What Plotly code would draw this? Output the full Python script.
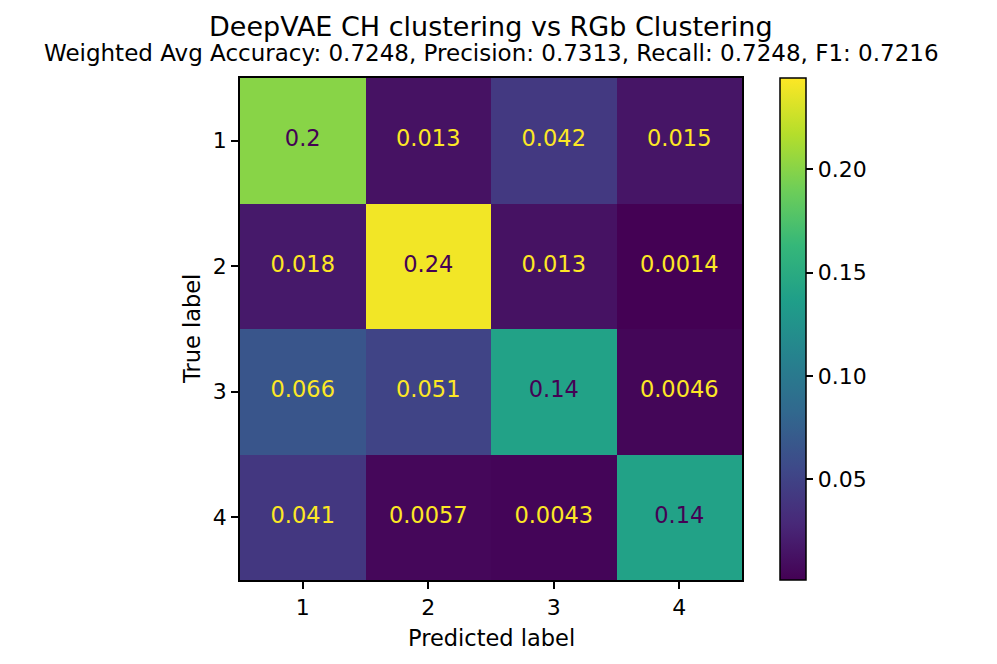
import plotly.graph_objects as go

labels = ["1", "2", "3", "4"]
matrix = [
    [0.2, 0.013, 0.042, 0.015],
    [0.018, 0.24, 0.013, 0.0014],
    [0.066, 0.051, 0.14, 0.0046],
    [0.041, 0.0057, 0.0043, 0.14],
]
cbar_ticks = [0.05, 0.10, 0.15, 0.20]
title = "DeepVAE CH clustering vs RGb Clustering"
subtitle = "Weighted Avg Accuracy: 0.7248, Precision: 0.7313, Recall: 0.7248, F1: 0.7216"
xlabel = "Predicted label"
ylabel = "True label"

zmin = 0.0014
zmax = 0.244
thresh = (zmin + zmax) / 2
FONT = "DejaVu Sans"
FS = 22.5

W, H = 989, 656
L, R, T, B = 232, 255, 70, 84
PW, PH = W - L - R, H - T - B

fig = go.Figure()
fig.add_trace(go.Heatmap(
    z=matrix, x=labels, y=labels, colorscale="Viridis", zmin=zmin, zmax=zmax,
    hoverinfo="skip",
    colorbar=dict(
        x=(772 - L) / PW, xanchor="left", xref="paper", y=0.5, yanchor="middle",
        len=1.0, lenmode="fraction", thickness=26, thicknessmode="pixels",
        outlinecolor="black", outlinewidth=1.5, xpad=0, ypad=0,
        tickvals=cbar_ticks, ticktext=[f"{t:.2f}" for t in cbar_ticks],
        ticks="outside", ticklen=7, tickwidth=1.5, tickcolor="black",
        tickfont=dict(family=FONT, size=FS - 0.5, color="black"),
    ),
))

xs, ys, txt, cols = [], [], [], []
for i, row in enumerate(matrix):
    for j, v in enumerate(row):
        xs.append(labels[j]); ys.append(labels[i])
        txt.append(f"{v:.2g}")
        cols.append("#440154" if v > thresh else "#fde725")
fig.add_trace(go.Scatter(
    x=xs, y=ys, mode="text", text=txt,
    textfont=dict(family=FONT, size=FS, color=cols),
    hoverinfo="skip", showlegend=False,
))

axis_common = dict(
    showline=True, linecolor="black", linewidth=1.7, mirror=True,
    ticks="outside", ticklen=7, tickwidth=1.5, tickcolor="black",
    tickfont=dict(family=FONT, size=FS - 0.5, color="black"),
    showgrid=False, zeroline=False, type="category",
)
fig.update_xaxes(**axis_common)
fig.update_yaxes(autorange="reversed", **axis_common)

def py(fig_px):
    return 1 - (fig_px - T) / PH

def px(fig_px):
    return (fig_px - L) / PW

fig.update_layout(
    width=W, height=H,
    margin=dict(l=L, r=R, t=T, b=B, pad=0),
    plot_bgcolor="white", paper_bgcolor="white",
    showlegend=False,
    annotations=[
        dict(text=title, x=0.5, xref="paper", y=py(18), yref="paper", yanchor="middle",
             showarrow=False, font=dict(family=FONT, size=27, color="black")),
        dict(text=subtitle, x=0.5, xref="paper", y=py(45), yref="paper", yanchor="middle",
             showarrow=False, font=dict(family=FONT, size=FS + 0.5, color="black")),
        dict(text=xlabel, x=0.5, xref="paper", y=py(630), yref="paper", yanchor="middle",
             showarrow=False, font=dict(family=FONT, size=FS, color="black")),
        dict(text=ylabel, x=px(184), xref="paper", y=0.5, yref="paper", xanchor="center",
             yanchor="middle", textangle=-90,
             showarrow=False, font=dict(family=FONT, size=FS, color="black")),
    ],
)

fig.write_html("out.html")
